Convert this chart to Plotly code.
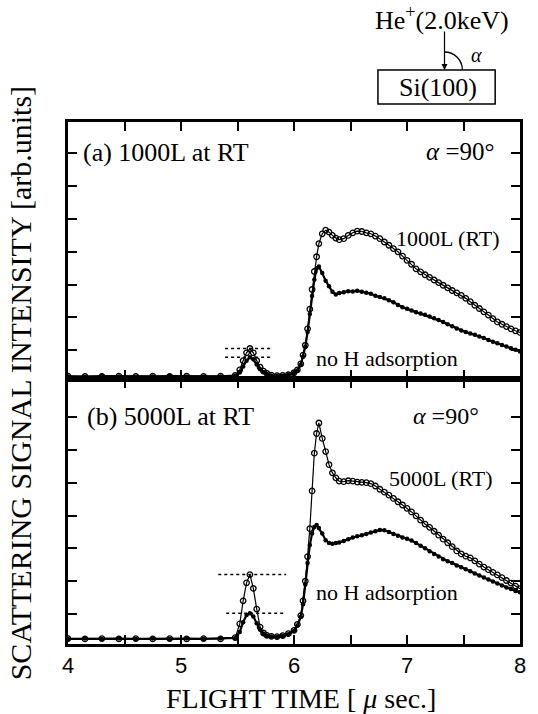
import plotly.graph_objects as go

# ---------------- data ----------------
x_t = [4.00, 4.15, 4.30, 4.45, 4.60, 4.75, 4.90, 5.05, 5.20, 5.35, 5.48, 5.52, 5.55, 5.58, 5.61,
       5.64, 5.67, 5.70, 5.73, 5.76, 5.80, 5.85, 5.90, 5.95, 6.00, 6.03, 6.06, 6.08, 6.10, 6.12,
       6.14, 6.16, 6.18, 6.20, 6.22, 6.25, 6.28, 6.31, 6.34, 6.37, 6.40, 6.44, 6.48, 6.52, 6.56,
       6.60, 6.64, 6.68, 6.72, 6.76, 6.80, 6.84, 6.88, 6.92, 6.96, 7.00, 7.04, 7.08, 7.12, 7.16,
       7.20, 7.24, 7.28, 7.32, 7.36, 7.40, 7.44, 7.48, 7.52, 7.56, 7.60, 7.64, 7.68, 7.72, 7.76,
       7.80, 7.84, 7.88, 7.92, 7.96, 8.00]

# panel (a): no H adsorption
a_noH = [0.20, 0.19, 0.21, 0.20, 0.19, 0.20, 0.21, 0.20, 0.19, 0.20, 0.22, 0.32, 0.50, 0.68, 0.78,
         0.72, 0.56, 0.42, 0.33, 0.27, 0.23, 0.21, 0.22, 0.24, 0.30, 0.38, 0.55, 0.80, 1.10, 1.55,
         2.10, 2.65, 3.15, 3.50, 3.55, 3.35, 3.12, 2.95, 2.78, 2.70, 2.74, 2.77, 2.80, 2.79, 2.81,
         2.78, 2.75, 2.72, 2.66, 2.62, 2.58, 2.52, 2.46, 2.38, 2.31, 2.26, 2.21, 2.16, 2.12, 2.08,
         2.03, 1.97, 1.92, 1.86, 1.79, 1.73, 1.66, 1.60, 1.55, 1.51, 1.47, 1.42, 1.37, 1.31, 1.26,
         1.21, 1.16, 1.11, 1.06, 1.01, 0.96]
# panel (a): 1000L (RT)
a_H = [0.21, 0.20, 0.20, 0.21, 0.20, 0.21, 0.20, 0.21, 0.20, 0.21, 0.23, 0.40, 0.68, 0.92, 1.05,
       0.92, 0.68, 0.48, 0.36, 0.29, 0.24, 0.22, 0.23, 0.25, 0.31, 0.40, 0.58, 0.85, 1.15, 1.65,
       2.25, 2.85, 3.40, 3.85, 4.25, 4.55, 4.66, 4.60, 4.50, 4.42, 4.37, 4.40, 4.50, 4.58, 4.63,
       4.62, 4.58, 4.55, 4.48, 4.40, 4.30, 4.20, 4.10, 4.00, 3.87, 3.74, 3.62, 3.48, 3.39, 3.30,
       3.22, 3.14, 3.06, 2.98, 2.90, 2.82, 2.75, 2.67, 2.58, 2.48, 2.37, 2.27, 2.17, 2.07, 1.96,
       1.86, 1.79, 1.72, 1.65, 1.59, 1.54]
# panel (b): no H adsorption
b_noH = [0.24, 0.25, 0.24, 0.25, 0.24, 0.25, 0.24, 0.25, 0.24, 0.25, 0.27, 0.45, 0.75, 0.97, 1.02,
         0.92, 0.72, 0.52, 0.40, 0.34, 0.31, 0.30, 0.33, 0.38, 0.48, 0.65, 0.91, 1.30, 1.90, 2.55,
         3.10, 3.45, 3.65, 3.71, 3.62, 3.45, 3.25, 3.16, 3.14, 3.16, 3.18, 3.22, 3.28, 3.33, 3.37,
         3.40, 3.44, 3.48, 3.52, 3.56, 3.55, 3.50, 3.44, 3.38, 3.33, 3.29, 3.24, 3.16, 3.08, 3.00,
         2.91, 2.83, 2.75, 2.67, 2.61, 2.55, 2.48, 2.42, 2.36, 2.30, 2.23, 2.17, 2.11, 2.05, 1.99,
         1.93, 1.87, 1.81, 1.76, 1.70, 1.66]
# panel (b): 5000L (RT)
b_H = [0.25, 0.24, 0.25, 0.24, 0.25, 0.24, 0.25, 0.24, 0.25, 0.24, 0.28, 0.70, 1.40, 1.95, 2.20,
       1.78, 1.15, 0.60, 0.42, 0.35, 0.32, 0.31, 0.34, 0.40, 0.50, 0.68, 0.95, 1.40, 2.00, 2.75,
       3.60, 4.75, 5.90, 6.50, 6.82, 6.35, 5.95, 5.55, 5.30, 5.15, 5.05, 5.03, 5.06, 5.05, 5.02,
       5.01, 5.00, 4.97, 4.90, 4.80, 4.71, 4.62, 4.52, 4.42, 4.32, 4.22, 4.11, 3.99, 3.86, 3.74,
       3.64, 3.52, 3.40, 3.28, 3.17, 3.05, 2.92, 2.83, 2.76, 2.71, 2.62, 2.52, 2.43, 2.35, 2.27,
       2.19, 2.11, 2.02, 1.94, 1.85, 1.77]

x_ticks = [4, 4.5, 5, 5.5, 6, 6.5, 7, 7.5, 8]
x_tick_labels = ["4", "", "5", "", "6", "", "7", "", "8"]
y_ticks = [1, 2, 3, 4, 5, 6, 7]

# ---------------- layout helpers ----------------
W_FIG, H_FIG = 538, 714
L, R, T, B = 68, 523, 122, 644
MID = 379
PW, PH = R - L, B - T


def px(xp):
    return (xp - L) / PW


def py(yp):
    return (B - yp) / PH


SERIF = "Liberation Serif, Times New Roman, serif"
SANS = "Liberation Sans, Arial, sans-serif"

fig = go.Figure()


def add_pair(noh, h, xa, ya):
    fig.add_trace(go.Scatter(
        x=x_t, y=h, xaxis=xa, yaxis=ya, mode="lines+markers",
        line=dict(color="black", width=1.2),
        marker=dict(symbol="circle-open", size=5.5, color="black", line=dict(width=1.3)),
        showlegend=False, hoverinfo="skip"))
    fig.add_trace(go.Scatter(
        x=x_t, y=noh, xaxis=xa, yaxis=ya, mode="lines+markers",
        line=dict(color="black", width=2.2),
        marker=dict(symbol="circle", size=4.5, color="black"),
        showlegend=False, hoverinfo="skip"))


add_pair(a_noH, a_H, "x2", "y2")
add_pair(b_noH, b_H, "x", "y")

split = (B - MID) / PH
axis_common = dict(showline=True, linewidth=2.5, linecolor="black", mirror="ticks",
                   ticks="inside", ticklen=9, tickwidth=1.5, tickcolor="black",
                   showgrid=False, zeroline=False)

fig.update_layout(
    width=W_FIG, height=H_FIG,
    margin=dict(l=L, r=W_FIG - R, t=T, b=H_FIG - B),
    paper_bgcolor="white", plot_bgcolor="white",
    xaxis=dict(domain=[0, 1], anchor="y", range=[4, 8], tickvals=x_ticks, ticktext=x_tick_labels,
               tickfont=dict(family=SANS, size=22, color="black"), **axis_common),
    xaxis2=dict(domain=[0, 1], anchor="y2", range=[4, 8], tickvals=x_ticks, matches="x",
                showticklabels=False, **axis_common),
    yaxis=dict(domain=[0, split], anchor="x", range=[0.085, 8.16], tickvals=y_ticks,
               showticklabels=False, **axis_common),
    yaxis2=dict(domain=[split, 1], anchor="x2", range=[0.12, 7.96], tickvals=y_ticks,
                showticklabels=False, **axis_common),
)


def peak_max(xs, ys, lo=5.4, hi=5.8):
    return max(y for x, y in zip(xs, ys) if lo <= x <= hi)


dot = dict(color="black", width=1.5, dash="dot")
shapes = [
    dict(type="line", xref="x2", yref="y2", x0=5.39, x1=5.80,
         y0=peak_max(x_t, a_H), y1=peak_max(x_t, a_H), line=dot),
    dict(type="line", xref="x2", yref="y2", x0=5.39, x1=5.80,
         y0=peak_max(x_t, a_noH), y1=peak_max(x_t, a_noH), line=dot),
    dict(type="line", xref="x", yref="y", x0=5.33, x1=5.93,
         y0=peak_max(x_t, b_H), y1=peak_max(x_t, b_H), line=dot),
    dict(type="line", xref="x", yref="y", x0=5.40, x1=5.93,
         y0=peak_max(x_t, b_noH), y1=peak_max(x_t, b_noH), line=dot),
    # Si(100) box
    dict(type="rect", xref="paper", yref="paper", x0=px(380), x1=px(498), y0=py(104), y1=py(70),
         line=dict(color="black", width=1.5)),
]

# angle arc (quarter circle, centre (447,70), r=18 px)
cx, cy, r = 447, 70, 18
k = 0.5523 * r
path = (f"M {px(cx)} {py(cy - r)} C {px(cx + k)} {py(cy - r)} "
        f"{px(cx + r)} {py(cy - k)} {px(cx + r)} {py(cy)}")
shapes.append(dict(type="path", xref="paper", yref="paper", path=path,
                   line=dict(color="black", width=1.3)))
fig.update_layout(shapes=shapes)


def text(s, xp, yp, size, xanchor="center", yanchor="middle", angle=0, family=SERIF):
    fig.add_annotation(text=s, x=px(xp), y=py(yp), xref="paper", yref="paper",
                       showarrow=False, xanchor=xanchor, yanchor=yanchor, textangle=angle,
                       font=dict(family=family, size=size, color="black"))


text("(a) 1000L at RT", 81, 153, 26, xanchor="left")
text("<i>α</i> =90°", 499, 151, 25, xanchor="right")
text("1000L (RT)", 396, 238, 22, xanchor="left")
text("no H adsorption", 316, 358, 22, xanchor="left")
text("(b) 5000L at RT", 85, 416, 26, xanchor="left")
text("<i>α</i> =90°", 484, 416, 24, xanchor="right")
text("5000L (RT)", 389, 478, 22, xanchor="left")
text("no H adsorption", 316, 592, 22, xanchor="left")

text("He<sup>+</sup>(2.0keV)", 444, 18, 26)
text("Si(100)", 440, 87, 26)
text("<i>α</i>", 479, 55, 20)

text("SCATTERING SIGNAL INTENSITY [arb.units]", 20, 383, 30, angle=-90)
text("FLIGHT TIME [ <i>μ</i> sec.]", 303, 698, 28)

# incident-beam arrow
fig.add_annotation(x=px(447), y=py(70), xref="paper", yref="paper", ax=0, ay=-40,
                   axref="pixel", ayref="pixel", showarrow=True, arrowhead=2,
                   arrowsize=1, arrowwidth=1.2, arrowcolor="black", text="")

fig.write_html("out.html")
